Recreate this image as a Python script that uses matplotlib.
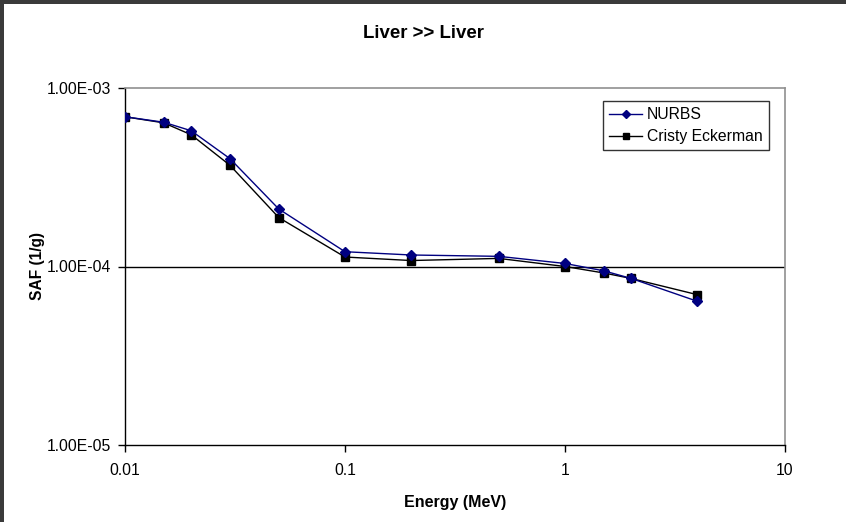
import matplotlib.pyplot as plt
from matplotlib.patches import Rectangle
from matplotlib.ticker import FixedLocator, NullLocator

plt.rcParams['font.family'] = ['Liberation Sans', 'DejaVu Sans']

# Energia (MeV) y SAF (1/g)
energy = [0.01, 0.015, 0.02, 0.03, 0.05, 0.1, 0.2, 0.5, 1, 1.5, 2, 4]
nurbs = [6.9e-4, 6.43e-4, 5.76e-4, 4.02e-4, 2.10e-4, 1.21e-4,
         1.16e-4, 1.14e-4, 1.04e-4, 9.46e-5, 8.57e-5, 6.38e-5]
cristy = [6.9e-4, 6.38e-4, 5.47e-4, 3.69e-4, 1.88e-4, 1.13e-4,
          1.08e-4, 1.11e-4, 1.0e-4, 9.2e-5, 8.57e-5, 6.95e-5]

x_ticks = [0.01, 0.1, 1, 10]
x_labels = ['0.01', '0.1', '1', '10']
y_ticks = [1e-5, 1e-4, 1e-3]
y_labels = ['1.00E-05', '1.00E-04', '1.00E-03']

fig = plt.figure(figsize=(8.46, 5.22), dpi=100)

# marco oscuro arriba y a la izquierda
fig.patches.append(Rectangle((0, 1 - 4 / 522), 1, 4 / 522, transform=fig.transFigure,
                             facecolor='#3a3a3a', edgecolor='none', zorder=0))
fig.patches.append(Rectangle((0, 0), 4 / 846, 1, transform=fig.transFigure,
                             facecolor='#3a3a3a', edgecolor='none', zorder=0))

ax = fig.add_axes([125 / 846, 1 - 445 / 522, 660 / 846, 357 / 522])

ax.plot(energy, nurbs, color='#000080', marker='D', markersize=5, linewidth=1,
        label='NURBS', zorder=3)
ax.plot(energy, cristy, color='black', marker='s', markersize=6, linewidth=1,
        label='Cristy Eckerman', zorder=2)

ax.set_xscale('log')
ax.set_yscale('log')
ax.set_xlim(0.01, 10)
ax.set_ylim(1e-5, 1e-3)

ax.xaxis.set_major_locator(FixedLocator(x_ticks))
ax.xaxis.set_minor_locator(NullLocator())
ax.set_xticklabels(x_labels)
ax.yaxis.set_major_locator(FixedLocator(y_ticks))
ax.yaxis.set_minor_locator(NullLocator())
ax.set_yticklabels(y_labels)

ax.tick_params(axis='both', direction='out', length=5, width=1, labelsize=11.3,
               color='black')
ax.tick_params(axis='x', pad=8)
ax.tick_params(axis='y', pad=5)

# linea de cuadricula en 1E-04
ax.axhline(1e-4, color='black', linewidth=1, zorder=1)

for s in ['top', 'right']:
    ax.spines[s].set_color('#909090')
    ax.spines[s].set_linewidth(1.2)
for s in ['left', 'bottom']:
    ax.spines[s].set_color('black')
    ax.spines[s].set_linewidth(1)

# el titulo va centrado en toda la figura
fig.text(0.5, 1 - 33 / 522, 'Liver >> Liver', fontsize=13.4, fontweight='bold',
         ha='center', va='center')
ax.set_xlabel('Energy (MeV)', fontsize=11.5, fontweight='bold', labelpad=12)
ax.set_ylabel('SAF (1/g)', fontsize=11.2, fontweight='bold', labelpad=1)

leg = ax.legend(loc='upper right', bbox_to_anchor=(0.976, 0.964), fontsize=11.3,
                frameon=True, fancybox=False, handlelength=2.1, handletextpad=0.3,
                borderpad=0.4, labelspacing=0.45, borderaxespad=0, markerscale=0.8)
leg.get_frame().set_edgecolor('black')
leg.get_frame().set_linewidth(1)

fig.savefig('out.png', dpi=100)
